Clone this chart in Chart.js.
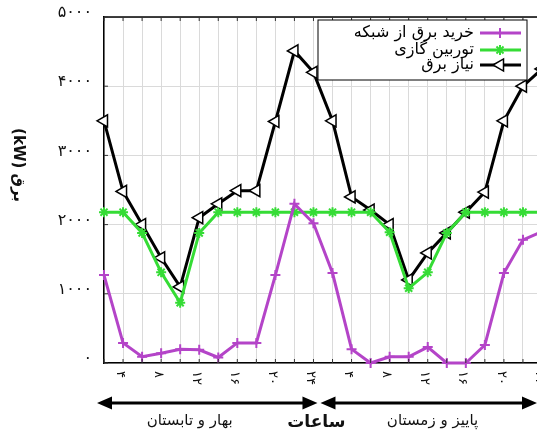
<!DOCTYPE html>
<html>
<head>
<meta charset="utf-8">
<script src="https://cdn.jsdelivr.net/npm/chart.js@4.4.1/dist/chart.umd.min.js"></script>
<style>
  html, body { margin: 0; padding: 0; background: #fff; overflow: hidden; width: 537px; height: 430px; }
  #wrap { width: 560px; height: 430px; }
</style>
</head>
<body>
<div id="wrap"><canvas id="chart" width="560" height="430"></canvas></div>
<script>
// hours of the two typical days, one point every 2 hours
const hours = [2, 4, 6, 8, 10, 12, 14, 16, 18, 20, 22, 24,
               26, 28, 30, 32, 34, 36, 38, 40, 42, 44, 46, 48];

const gridBuy = [1270, 290, 90, 140, 200, 190, 80, 290, 290, 1270, 2300, 2020,
                 1300, 200, 0, 90, 90, 230, 0, 0, 260, 1300, 1780, 1900];
const turbine = [2180, 2180, 1880, 1310, 870, 1880, 2180, 2180, 2180, 2180, 2180, 2180,
                 2180, 2180, 2180, 1890, 1080, 1310, 1880, 2180, 2180, 2180, 2180, 2180];
const demand = [3500, 2480, 2000, 1520, 1100, 2100, 2300, 2490, 2490, 3490, 4510, 4200,
                3500, 2400, 2210, 2000, 1200, 1590, 1880, 2180, 2470, 3500, 4000, 4250];

const xTickHours = [4, 8, 12, 16, 20, 24, 28, 32, 36, 40, 44, 48];
const yTicks = [0, 1000, 2000, 3000, 4000, 5000];

const seriesNames = ['خرید برق از شبکه', 'توربین گازی', 'نیاز برق'];
const seasons = ['بهار و تابستان', 'پاییز و زمستان'];
const xTitle = 'ساعات';
const yTitle = 'برق (kW)';

const colors = ['#b444c8', '#35dc35', '#000000'];
const arabicFont = '"DejaVu Sans", sans-serif';

const fa = (n) => String(n).replace(/\d/g, d => '۰۱۲۳۴۵۶۷۸۹'[d]);
const pts = (vals) => hours.map((h, i) => ({ x: h, y: vals[i] }));

const markers = [
  { pointStyle: 'cross', radius: 5, borderWidth: 2, rotation: 0, fill: colors[0] },
  { pointStyle: 'star', radius: 5, borderWidth: 2, rotation: 0, fill: colors[1] },
  { pointStyle: 'triangle', radius: 7, borderWidth: 1.5, rotation: -90, fill: '#fff' }
];

const decorations = {
  id: 'decorations',
  afterDraw(chart) {
    const ctx = chart.ctx;
    const area = chart.chartArea;
    const xs = chart.scales.x;
    const ys = chart.scales.y;
    ctx.save();

    // top frame
    ctx.strokeStyle = '#000';
    ctx.lineWidth = 1.5;
    ctx.beginPath();
    ctx.moveTo(area.left, area.top);
    ctx.lineTo(area.right + 20, area.top);
    ctx.stroke();

    // inner tick marks
    ctx.lineWidth = 1;
    ctx.strokeStyle = '#333';
    ctx.beginPath();
    for (let h = 2; h <= 48; h += 2) {
      const x = xs.getPixelForValue(h);
      ctx.moveTo(x, area.bottom); ctx.lineTo(x, area.bottom - 4);
      ctx.moveTo(x, area.top); ctx.lineTo(x, area.top + 4);
    }
    yTicks.forEach(v => {
      const y = ys.getPixelForValue(v);
      ctx.moveTo(area.left, y); ctx.lineTo(area.left + 4, y);
    });
    ctx.stroke();

    // y tick labels, spaced out like the source
    ctx.fillStyle = '#111';
    ctx.font = '16px ' + arabicFont;
    ctx.textAlign = 'right';
    ctx.textBaseline = 'middle';
    ctx.letterSpacing = '3px';
    yTicks.forEach(v => {
      ctx.fillText(fa(v), area.left - 12, ys.getPixelForValue(v) - 4);
    });
    ctx.letterSpacing = '0px';

    // x tick labels, turned clockwise
    ctx.font = '13px ' + arabicFont;
    xTickHours.forEach(h => {
      const lab = fa(h % 24 === 0 ? 24 : h % 24);
      ctx.save();
      ctx.translate(xs.getPixelForValue(h) - 3, area.bottom + 8);
      ctx.rotate(Math.PI / 2);
      ctx.textAlign = 'left';
      ctx.textBaseline = 'middle';
      ctx.fillText(lab, 0, 0);
      ctx.restore();
    });

    // season arrows
    const ay = 403;
    const arrow = (x1, x2) => {
      ctx.strokeStyle = '#000';
      ctx.fillStyle = '#000';
      ctx.lineWidth = 3;
      ctx.beginPath();
      ctx.moveTo(x1 + 10, ay); ctx.lineTo(x2 - 10, ay);
      ctx.stroke();
      ctx.beginPath();
      ctx.moveTo(x1, ay); ctx.lineTo(x1 + 15, ay - 6.5); ctx.lineTo(x1 + 15, ay + 6.5); ctx.closePath();
      ctx.moveTo(x2, ay); ctx.lineTo(x2 - 15, ay - 6.5); ctx.lineTo(x2 - 15, ay + 6.5); ctx.closePath();
      ctx.fill();
    };
    arrow(area.left - 7, xs.getPixelForValue(24) + 4);
    arrow(xs.getPixelForValue(24) + 7, xs.getPixelForValue(48) - 5);

    ctx.fillStyle = '#111';
    ctx.textAlign = 'center';
    ctx.textBaseline = 'middle';
    ctx.direction = 'rtl';
    ctx.font = '15px ' + arabicFont;
    ctx.fillText(seasons[0], xs.getPixelForValue(11), 421);
    ctx.fillText(seasons[1], xs.getPixelForValue(36.5), 421);
    ctx.font = 'bold 17px ' + arabicFont;
    ctx.fillText(xTitle, xs.getPixelForValue(24.3), 423);

    // y title, turned clockwise
    ctx.save();
    ctx.translate(18, 165);
    ctx.rotate(Math.PI / 2);
    ctx.font = 'bold 15px ' + arabicFont;
    ctx.fillText(yTitle, 0, 0);
    ctx.restore();

    // legend box
    const lx = 318, ly = 20, lw = 209, lh = 60;
    ctx.fillStyle = '#fff';
    ctx.fillRect(lx, ly, lw, lh);
    ctx.strokeStyle = '#000';
    ctx.lineWidth = 1;
    ctx.strokeRect(lx, ly, lw, lh);
    const rows = [33, 50, 65];
    seriesNames.forEach((name, i) => {
      const y = rows[i];
      ctx.strokeStyle = colors[i];
      ctx.lineWidth = 3;
      ctx.beginPath();
      ctx.moveTo(480, y); ctx.lineTo(521, y);
      ctx.stroke();
      const m = markers[i];
      ctx.fillStyle = m.fill;
      ctx.lineWidth = m.borderWidth;
      Chart.helpers.drawPoint(ctx, m, 500, y);
      ctx.fillStyle = '#000';
      ctx.font = '16px ' + arabicFont;
      ctx.textAlign = 'right';
      ctx.textBaseline = 'middle';
      ctx.direction = 'rtl';
      ctx.fillText(name, 474, y);
    });

    ctx.restore();
  }
};

const makeSet = (i, vals) => ({
  label: seriesNames[i],
  data: pts(vals),
  borderColor: colors[i],
  backgroundColor: markers[i].fill,
  borderWidth: 3,
  pointStyle: markers[i].pointStyle,
  pointRadius: markers[i].radius,
  pointRotation: markers[i].rotation,
  pointBorderWidth: markers[i].borderWidth,
  pointBorderColor: colors[i],
  pointBackgroundColor: markers[i].fill,
  tension: 0,
  clip: false
});

new Chart(document.getElementById('chart'), {
  type: 'line',
  data: {
    datasets: [makeSet(0, gridBuy), makeSet(1, turbine), makeSet(2, demand)]
  },
  options: {
    responsive: false,
    animation: false,
    layout: { padding: { top: 17, right: 18, bottom: 67, left: 0 } },
    plugins: {
      legend: { display: false },
      tooltip: { enabled: false }
    },
    scales: {
      x: {
        type: 'linear',
        min: 2,
        max: 48,
        afterFit: s => { s.height = 0; },
        ticks: { display: false, stepSize: 2 },
        grid: { color: '#dadada', lineWidth: 1, drawTicks: false },
        border: { color: '#000', width: 1.5 }
      },
      y: {
        min: 0,
        max: 5000,
        afterFit: s => { s.width = 104; },
        ticks: { display: false, stepSize: 1000 },
        grid: { color: '#dadada', lineWidth: 1, drawTicks: false },
        border: { color: '#000', width: 1.5 }
      }
    }
  },
  plugins: [decorations]
});
</script>
</body>
</html>
